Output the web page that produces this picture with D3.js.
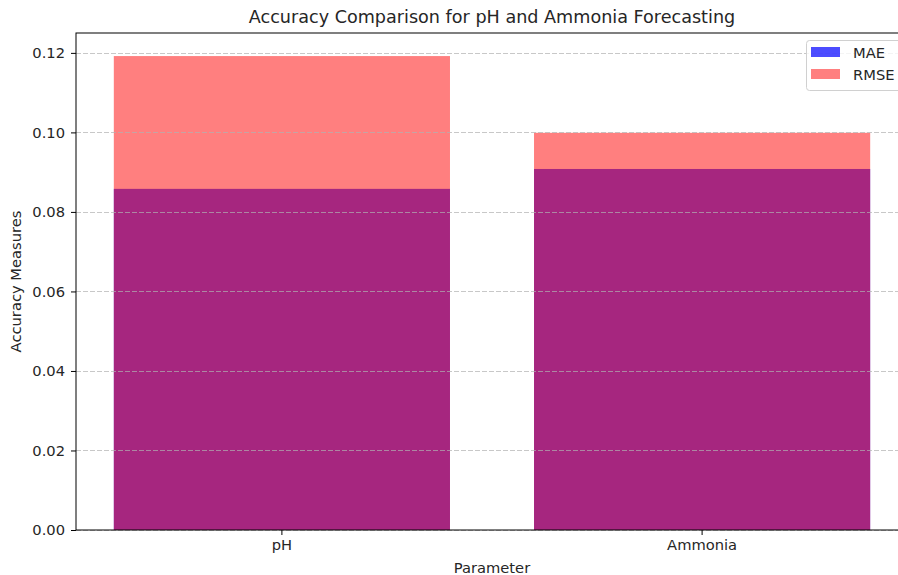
<!DOCTYPE html>
<html>
<head>
<meta charset="utf-8">
<script src="https://cdn.jsdelivr.net/npm/d3@7"></script>
<style>
  body { margin: 0; background: #fff; }
  svg text { font-family: "DejaVu Sans", sans-serif; fill: #262626; }
</style>
</head>
<body>
<div id="chart"></div>
<script>
// data
var params = ["pH", "Ammonia"];
var maeValues = [0.0858, 0.0908];
var rmseValues = [0.1192, 0.0999];
var yTicks = [0, 0.02, 0.04, 0.06, 0.08, 0.10, 0.12];

var W = 898, H = 575;
var margin = { top: 33, right: -10, bottom: 45, left: 76 },
    width = W - margin.left - margin.right,
    height = H - margin.top - margin.bottom;

var svg = d3.select("#chart").append("svg")
    .attr("width", W).attr("height", H);

var g = svg.append("g")
    .attr("transform", "translate(" + margin.left + "," + margin.top + ")");

var x = d3.scaleBand().domain(params).range([0, width])
    .paddingInner(0.2).paddingOuter(0.09);
var y = d3.scaleLinear().domain([0, 0.125]).range([height, 0]);

// MAE bars first (blue), RMSE drawn on top (red, semi transparent)
g.selectAll(".mae").data(params).join("rect")
    .attr("class", "mae")
    .attr("x", function (d) { return x(d); })
    .attr("width", x.bandwidth())
    .attr("y", function (d, i) { return y(maeValues[i]); })
    .attr("height", function (d, i) { return height - y(maeValues[i]); })
    .attr("fill", "blue").attr("fill-opacity", 0.7);

g.selectAll(".rmse").data(params).join("rect")
    .attr("class", "rmse")
    .attr("x", function (d) { return x(d); })
    .attr("width", x.bandwidth())
    .attr("y", function (d, i) { return y(rmseValues[i]); })
    .attr("height", function (d, i) { return height - y(rmseValues[i]); })
    .attr("fill", "red").attr("fill-opacity", 0.5);

// dashed grid on top of bars
g.selectAll(".grid").data(yTicks).join("line")
    .attr("x1", 0).attr("x2", width)
    .attr("y1", function (d) { return Math.round(y(d)) + 0.5; })
    .attr("y2", function (d) { return Math.round(y(d)) + 0.5; })
    .attr("stroke", "#b0b0b0").attr("stroke-opacity", 0.7)
    .attr("stroke-dasharray", "5,2").attr("stroke-width", 1);

// axes
var yAxis = g.append("g")
    .call(d3.axisLeft(y).tickValues(yTicks).tickFormat(d3.format(".2f")).tickSizeOuter(0).tickSize(5).tickPadding(6));
var xAxis = g.append("g")
    .attr("transform", "translate(0," + height + ")")
    .call(d3.axisBottom(x).tickSizeOuter(0).tickSize(5).tickPadding(5));

[yAxis, xAxis].forEach(function (a) {
    a.select(".domain").remove();
    a.selectAll("line").attr("stroke", "#000");
    a.selectAll("text").style("font-size", "14.7px").style("font-family", "DejaVu Sans").attr("fill", "#262626");
});

// spines
g.append("rect")
    .attr("x", 0).attr("y", 0)
    .attr("width", width).attr("height", height)
    .attr("fill", "none").attr("stroke", "#000").attr("stroke-width", 1);

// title and labels
svg.append("text")
    .attr("x", margin.left + width / 2).attr("y", 23)
    .attr("text-anchor", "middle")
    .style("font-size", "17.6px")
    .text("Accuracy Comparison for pH and Ammonia Forecasting");

svg.append("text")
    .attr("x", margin.left + width / 2).attr("y", 573)
    .attr("text-anchor", "middle")
    .style("font-size", "14.7px")
    .text("Parameter");

svg.append("text")
    .attr("transform", "translate(21," + (margin.top + height / 2) + ") rotate(-90)")
    .attr("text-anchor", "middle")
    .style("font-size", "14.7px")
    .text("Accuracy Measures");

// legend
var leg = svg.append("g").attr("transform", "translate(806,40)");
leg.append("rect")
    .attr("x", 0.5).attr("y", 0.5).attr("width", 100).attr("height", 50)
    .attr("rx", 3)
    .attr("fill", "#fff").attr("fill-opacity", 0.8)
    .attr("stroke", "#d0d0d0");
var legItems = [{ name: "MAE", color: "blue", op: 0.7 }, { name: "RMSE", color: "red", op: 0.5 }];
legItems.forEach(function (it, i) {
    leg.append("rect")
        .attr("x", 5).attr("y", 7 + i * 22).attr("width", 29).attr("height", 10)
        .attr("fill", it.color).attr("fill-opacity", it.op);
    leg.append("text")
        .attr("x", 47).attr("y", 17.5 + i * 22)
        .style("font-size", "14.7px")
        .text(it.name);
});
</script>
</body>
</html>
